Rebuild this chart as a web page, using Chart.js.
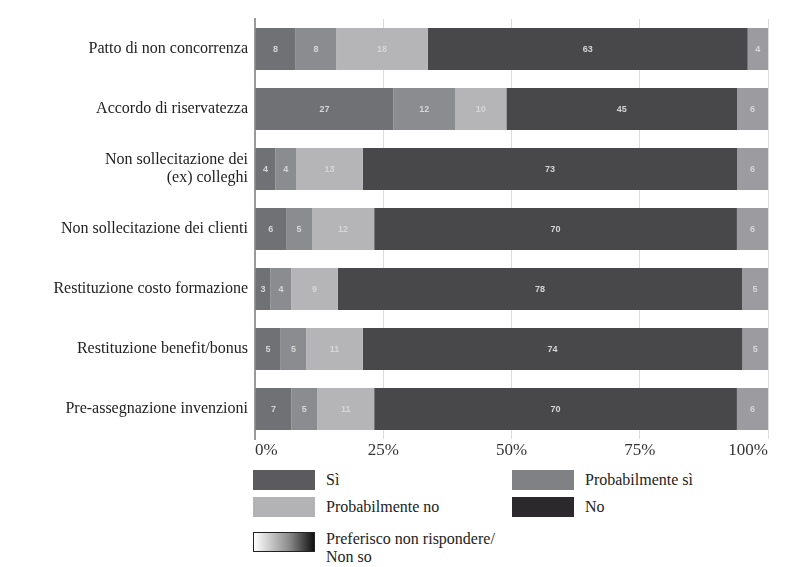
<!DOCTYPE html>
<html>
<head>
<meta charset="utf-8">
<script src="https://cdn.jsdelivr.net/npm/chart.js@4"></script>
<style>
  body { margin: 0; background: #fff; width: 790px; height: 567px; position: relative; overflow: hidden; }
  #wrap { position: absolute; left: 0; top: 0; width: 790px; height: 470px; }
  .sw { position: absolute; width: 62px; height: 20px; }
  .lt { position: absolute; font: 16px "Liberation Serif", serif; color: #222; line-height: 18px; }
</style>
</head>
<body>
<div id="wrap"><canvas id="chart"></canvas></div>

<div class="sw" style="left:253px;top:470px;background:#5b5b5f"></div>
<div class="lt" style="left:326px;top:471px">Sì</div>
<div class="sw" style="left:512px;top:470px;background:#808185"></div>
<div class="lt" style="left:585px;top:471px">Probabilmente sì</div>

<div class="sw" style="left:253px;top:497px;background:#b3b3b5"></div>
<div class="lt" style="left:326px;top:498px">Probabilmente no</div>
<div class="sw" style="left:512px;top:497px;background:#2b292b"></div>
<div class="lt" style="left:585px;top:498px">No</div>

<div class="sw" style="left:253px;top:532px;width:60px;height:18px;border:1px solid #222;background:linear-gradient(to right,#ffffff,#888 60%,#111)"></div>
<div class="lt" style="left:326px;top:530px">Preferisco non rispondere/<br>Non so</div>

<script>
// categories (top to bottom)
const categories = [
  'Patto di non concorrenza',
  'Accordo di riservatezza',
  ['Non sollecitazione dei', '(ex) colleghi'],
  'Non sollecitazione dei clienti',
  'Restituzione costo formazione',
  'Restituzione benefit/bonus',
  'Pre-assegnazione invenzioni'
];

// answers, as printed on the bars
const si      = [8, 27, 4, 6, 3, 5, 7];
const probSi  = [8, 12, 4, 5, 4, 5, 5];
const probNo  = [18, 10, 13, 12, 9, 11, 11];
const no      = [63, 45, 73, 70, 78, 74, 70];
const nonSo   = [4, 6, 6, 6, 5, 5, 6];

const xTicks = ['0%', '25%', '50%', '75%', '100%'];

// the bars are 100% stacked, so each row is scaled to its own total
const series = [si, probSi, probNo, no, nonSo];
const rowTotals = categories.map((c, j) => series.reduce((s, arr) => s + arr[j], 0));
function toPct(arr) {
  return arr.map((v, j) => v / rowTotals[j] * 100);
}

function makeSet(label, raw, color) {
  return {
    label: label,
    data: toPct(raw),
    raw: raw,
    backgroundColor: color,
    barPercentage: 0.7,
    categoryPercentage: 1.0
  };
}

// numbers inside each segment
const barLabels = {
  id: 'barLabels',
  afterDatasetsDraw(chart) {
    const ctx = chart.ctx;
    ctx.save();
    ctx.font = 'bold 9px "Liberation Sans", sans-serif';
    ctx.fillStyle = '#d6d6d6';
    ctx.textAlign = 'center';
    ctx.textBaseline = 'middle';
    chart.data.datasets.forEach((ds, i) => {
      chart.getDatasetMeta(i).data.forEach((bar, j) => {
        const p = bar.getCenterPoint();
        ctx.fillText(ds.raw[j], p.x, p.y + 1);
      });
    });
    ctx.restore();
  }
};

new Chart(document.getElementById('chart'), {
  type: 'bar',
  data: {
    labels: categories,
    datasets: [
      makeSet('Sì', si, '#707175'),
      makeSet('Probabilmente sì', probSi, '#8b8c90'),
      makeSet('Probabilmente no', probNo, '#b5b5b7'),
      makeSet('No', no, '#48484b'),
      makeSet('Preferisco non rispondere/Non so', nonSo, '#9c9ca0')
    ]
  },
  options: {
    indexAxis: 'y',
    responsive: true,
    maintainAspectRatio: false,
    animation: false,
    layout: { padding: { top: 19, right: 22, left: 0, bottom: 0 } },
    plugins: {
      legend: { display: false },
      tooltip: { enabled: false }
    },
    scales: {
      x: {
        stacked: true,
        min: 0,
        max: 100,
        afterFit: function(scale) { scale.height = 31; },
        afterBuildTicks: function(scale) {
          scale.ticks = [0, 25, 50, 75, 100].map(v => ({ value: v }));
        },
        grid: {
          color: ctx => (ctx.tick && ctx.tick.value === 0) ? 'rgba(0,0,0,0)' : '#dcdcdc',
          drawTicks: false
        },
        border: { display: false },
        ticks: {
          align: 'inner',
          padding: 1,
          color: '#333',
          font: { family: '"Liberation Serif", serif', size: 17 },
          callback: (v, i) => xTicks[i]
        }
      },
      y: {
        stacked: true,
        afterFit: function(scale) { scale.width = 255; },
        grid: { display: false, drawTicks: false },
        border: { display: true, color: '#9a9a9a', width: 2 },
        ticks: {
          padding: 7,
          color: '#222',
          font: { family: '"Liberation Serif", serif', size: 16, lineHeight: 1.1 }
        }
      }
    }
  },
  plugins: [barLabels]
});
</script>
</body>
</html>
